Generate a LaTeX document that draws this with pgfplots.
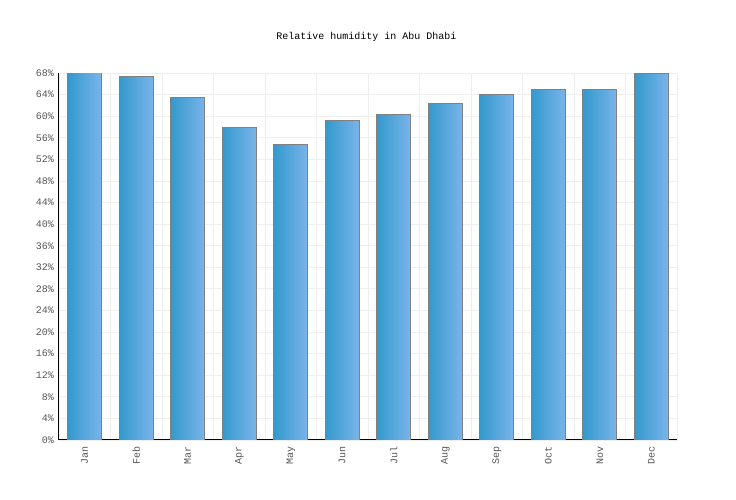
\documentclass[border=0pt]{standalone}
\usepackage{pgfplots}
\pgfplotsset{compat=1.18}
\usepackage{fontspec}
\setmainfont{Liberation Mono}
\definecolor{barleft}{HTML}{3399CC}
\definecolor{barright}{HTML}{7AB4EA}
\definecolor{gridc}{HTML}{EEEEEE}
\definecolor{tickc}{HTML}{555555}
\tikzset{hbar/.style={draw=gray, line width=0.9bp, left color=barleft, right color=barright}}
\begin{document}
\begin{tikzpicture}
\useasboundingbox (0,0) rectangle (736bp,500bp);
\node[font=\fontsize{10bp}{12bp}\selectfont] at (366.5bp,463bp) {Relative humidity in Abu Dhabi};
\begin{axis}[
    at={(59bp,60bp)}, anchor=south west,
    scale only axis,
    width=618bp, height=367bp,
    xmin=-0.5, xmax=11.5,
    ymin=0, ymax=68,
    ytick={0,4,...,68},
    yticklabel={\pgfmathprintnumber{\tick}\%},
    xtick={0,...,11},
    xticklabels={Jan,Feb,Mar,Apr,May,Jun,Jul,Aug,Sep,Oct,Nov,Dec},
    minor xtick={-0.5,0.5,...,11.5},
    xticklabel style={rotate=90, anchor=east, inner sep=6bp},
    yticklabel style={inner sep=5bp},
    ticklabel style={font=\fontsize{10bp}{12bp}\selectfont, text=tickc},
    /pgf/number format/assume math mode=true,
    major tick length=0pt, minor tick length=0pt,
    ymajorgrids, xminorgrids,
    grid style={gridc, line width=0.8bp},
    axis x line*=bottom, axis y line*=left,
    axis line style={black, line width=1bp, -},
    ybar, bar width=0.66, bar shift=0pt,
  ]
  \addplot[hbar] coordinates {(0,68.2)};
  \addplot[hbar] coordinates {(1,67.3)};
  \addplot[hbar] coordinates {(2,63.5)};
  \addplot[hbar] coordinates {(3,57.9)};
  \addplot[hbar] coordinates {(4,54.8)};
  \addplot[hbar] coordinates {(5,59.2)};
  \addplot[hbar] coordinates {(6,60.3)};
  \addplot[hbar] coordinates {(7,62.4)};
  \addplot[hbar] coordinates {(8,64.0)};
  \addplot[hbar] coordinates {(9,65.0)};
  \addplot[hbar] coordinates {(10,65.0)};
  \addplot[hbar] coordinates {(11,67.9)};
\end{axis}
\end{tikzpicture}
\end{document}
